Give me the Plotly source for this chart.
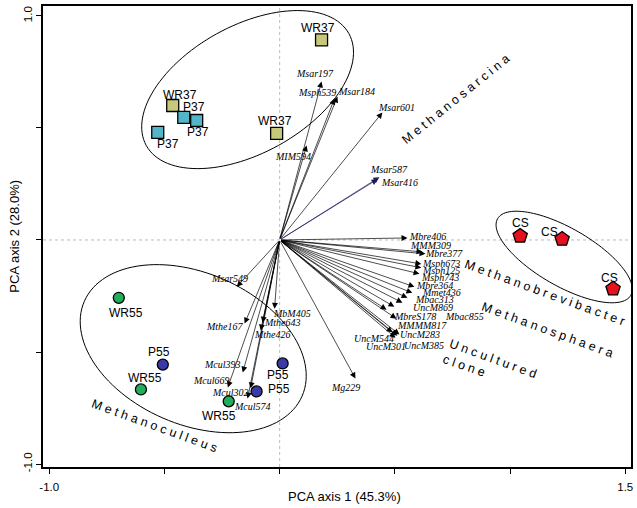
import math
import plotly.graph_objects as go

# ---------------- data ----------------
wr37_x = [0.182, -0.464, -0.013]
wr37_y = [0.893, 0.600, 0.476]
p37_x = [-0.416, -0.360, -0.529]
p37_y = [0.547, 0.533, 0.480]
cs_x = [1.044, 1.226, 1.447]
cs_y = [0.018, 0.004, -0.218]
wr55_x = [-0.698, -0.602, -0.221]
wr55_y = [-0.258, -0.667, -0.720]
p55_x = [-0.507, -0.100, 0.013]
p55_y = [-0.556, -0.676, -0.551]

species = ["Msar197", "Msph539", "Msar184", "Msar601", "MIM594", "Msar587", "Msar416",
           "Mbre406", "MMM309", "Mbre377", "Msph673", "Msph125", "Msph743", "Mbre364",
           "Mmet436", "Mbac313", "UncM869", "MbreS178", "Mbac855", "MMMM817", "UncM283",
           "UncM544", "UncM301", "UncM385", "Mg229", "Msar549", "MbM405", "Mthe643",
           "Mthe167", "Mthe426", "Mcul393", "Mcul669", "Mcul302", "Mcul574"]
species_x = [0.182, 0.238, 0.251, 0.446, 0.117, 0.433, 0.425,
             0.555, 0.620, 0.633, 0.615, 0.615, 0.607, 0.585,
             0.576, 0.555, 0.533, 0.464, 0.498, 0.507, 0.511,
             0.490, 0.503, 0.520, 0.329, -0.186, -0.022, -0.074,
             -0.152, -0.082, -0.160, -0.225, -0.126, -0.139]
species_y = [0.707, 0.631, 0.640, 0.569, 0.422, 0.280, 0.271,
             0.009, -0.053, -0.062, -0.107, -0.124, -0.151, -0.209,
             -0.236, -0.258, -0.280, -0.311, -0.298, -0.351, -0.427,
             -0.413, -0.436, -0.422, -0.618, -0.209, -0.307, -0.369,
             -0.373, -0.404, -0.591, -0.658, -0.662, -0.707]

x_tick_vals = [-1.0, -0.5, 0.0, 0.5, 1.0, 1.5]
x_tick_text = ["-1.0", "", "", "", "", "1.5"]
y_tick_vals = [-1.0, -0.5, 0.0, 0.5, 1.0]
y_tick_text = ["-1.0", "", "", "", "1.0"]

# ---------------- layout helpers (pixel offsets / styles) ----------------
label_offsets = {  # label centre relative to arrow tip, in screen pixels (x right, y down)
    "Msar197": (-7, -8), "Msph539": (-17, -6), "Msar184": (19, -5), "Msar601": (14, -5),
    "MIM594": (-14, 11), "Msar587": (10, -8), "Msar416": (22, 3), "Mbre406": (20, -1),
    "MMM309": (8, -6), "Mbre377": (19, 0), "Msph673": (20, 0), "Msph125": (20, 3),
    "Msph743": (21, 4), "Mbre364": (20, -1), "Mmet436": (29, 0), "Mbac313": (27, 2),
    "UncM869": (31, 5), "MbreS178": (28, 7), "Mbac855": (70, 10), "MMMM817": (26, 7),
    "UncM283": (23, -1), "UncM544": (-19, 6), "UncM301": (-10, 9), "UncM385": (25, 11),
    "Mg229": (-10, 9), "Msar549": (-7, -8), "MbM405": (17, 5), "Mthe643": (20, 0),
    "Mthe167": (-20, 3), "Mthe426": (12, 4), "Mcul393": (-20, -8), "Mcul669": (-16, -7),
    "Mcul302": (-20, 4), "Mcul574": (5, 8),
}
navy_arrows = {"Msar587", "Msar416"}

PXX, PXY = 230.8, 225.0  # pixels per data unit (x, y)

fig = go.Figure()

SANS = "Liberation Sans, Arial, sans-serif"
SERIF = "Liberation Serif, Times New Roman, serif"


def ellipse_path(cx, cy, a, b, ang_deg, n=120):
    th = math.radians(ang_deg)
    pts = []
    for i in range(n + 1):
        t = 2 * math.pi * i / n
        dxp = a * math.cos(t) * math.cos(th) - b * math.sin(t) * math.sin(th)
        dyp = a * math.cos(t) * math.sin(th) + b * math.sin(t) * math.cos(th)
        pts.append((cx + dxp / PXX, cy - dyp / PXY))
    return "M " + " L ".join(f"{x:.4f},{y:.4f}" for x, y in pts) + " Z"


shapes = [
    dict(type="line", x0=0, x1=0, y0=-1.013, y1=1.044, xref="x", yref="y",
         line=dict(color="#aaaaaa", width=0.8, dash="dot"), layer="below"),
    dict(type="line", x0=-1.027, x1=1.525, y0=0, y1=0, xref="x", yref="y",
         line=dict(color="#aaaaaa", width=0.8, dash="dot"), layer="below"),
    dict(type="path", path=ellipse_path(-0.139, 0.671, 116, 64, -29),
         line=dict(color="black", width=1), xref="x", yref="y"),
    dict(type="path", path=ellipse_path(-0.375, -0.485, 119, 76, 23.6),
         line=dict(color="black", width=1), xref="x", yref="y"),
    dict(type="path", path=ellipse_path(1.235, -0.076, 77, 29, 30),
         line=dict(color="black", width=1), xref="x", yref="y"),
]

annotations = []
# arrows from origin to species scores
for name, sx, sy in zip(species, species_x, species_y):
    col = "#1b1b5c" if name in navy_arrows else "black"
    annotations.append(dict(x=sx, y=sy, ax=0, ay=0, xref="x", yref="y", axref="x", ayref="y",
                            text="", showarrow=True, arrowhead=2, arrowsize=1.7,
                            arrowwidth=0.7, arrowcolor=col, standoff=0, startstandoff=0))
    dx, dy = label_offsets[name]
    annotations.append(dict(x=sx, y=sy, xref="x", yref="y", text=f"<i>{name}</i>",
                            showarrow=False, xshift=dx, yshift=-dy,
                            font=dict(family=SERIF, size=10, color="black")))

# sample markers
groups = [
    ("WR37", wr37_x, wr37_y, "square", 12, "#c6c87a", [(-4, -12), (7, -11), (-2, -12)]),
    ("P37", p37_x, p37_y, "square", 12, "#52b6c8", [(10, -10), (1, 11), (10, 12)]),
    ("CS", cs_x, cs_y, "pentagon", 15, "#e3121c", [(0, -13), (-13, -7), (-4, -11)]),
    ("WR55", wr55_x, wr55_y, "circle", 11, "#1fae5a", [(7, 15), (4, -11), (-10, 15)]),
    ("P55", p55_x, p55_y, "circle", 11, "#3a3aa6", [(-4, -13), (22, -2), (-5, 12)]),
]
for name, gx, gy, sym, size, color, offs in groups:
    fig.add_trace(go.Scatter(x=gx, y=gy, mode="markers", name=name, showlegend=False,
                             hoverinfo="skip",
                             marker=dict(symbol=sym, size=size, color=color,
                                         line=dict(color="black", width=1.3))))
    for xx, yy, (dx, dy) in zip(gx, gy, offs):
        annotations.append(dict(x=xx, y=yy, xref="x", yref="y", text=name, showarrow=False,
                                xshift=dx, yshift=-dy,
                                font=dict(family=SANS, size=12, color="black")))

# group labels (letter spaced, rotated)
def spaced(s):
    return " ".join(list(s))

group_labels = [
    ("Methanosarcina", 0.767, 0.627, -39),
    ("Methanobrevibacter", 1.153, -0.236, 20),
    ("Methanosphaera", 1.161, -0.400, 20),
    ("Uncultured", 0.927, -0.533, 20),
    ("clone", 0.802, -0.564, 19),
    ("Methanoculleus", -0.542, -0.831, 20),
]
for txt, gx, gy, ang in group_labels:
    annotations.append(dict(x=gx, y=gy, xref="x", yref="y", text=spaced(txt), showarrow=False,
                            textangle=ang, font=dict(family=SANS, size=12.5, color="black")))

# axis titles
annotations.append(dict(x=0.513, y=-0.065, xref="paper", yref="paper", text="PCA axis 1 (45.3%)",
                        xanchor="center", yanchor="middle",
                        showarrow=False, font=dict(family=SANS, size=13, color="black")))
annotations.append(dict(x=-0.049, y=0.5, xref="paper", yref="paper", text="PCA axis 2 (28.0%)",
                        xanchor="center", yanchor="middle",
                        showarrow=False, textangle=-90,
                        font=dict(family=SANS, size=13, color="black")))

fig.update_layout(
    width=637, height=508,
    margin=dict(l=43, r=5, t=4, b=41),
    paper_bgcolor="white", plot_bgcolor="white",
    shapes=shapes, annotations=annotations,
    xaxis=dict(range=[-1.027, 1.525], showgrid=False, zeroline=False, showline=True,
               linecolor="black", linewidth=1.5, mirror=True, ticks="outside", ticklen=5,
               tickwidth=1.2, tickcolor="black", tickvals=x_tick_vals, ticktext=x_tick_text,
               ticklabelstandoff=3,
               tickfont=dict(family=SANS, size=11.5, color="black")),
    yaxis=dict(range=[-1.013, 1.044], showgrid=False, zeroline=False, showline=True,
               linecolor="black", linewidth=1.5, mirror=True, ticks="outside", ticklen=5,
               tickwidth=1.2, tickcolor="black", tickvals=y_tick_vals, ticktext=y_tick_text,
               tickangle=-90, tickfont=dict(family=SANS, size=11.5, color="black")),
)

fig.write_html("out.html", config={"displayModeBar": False},
               post_script="document.body.style.margin='0';")
